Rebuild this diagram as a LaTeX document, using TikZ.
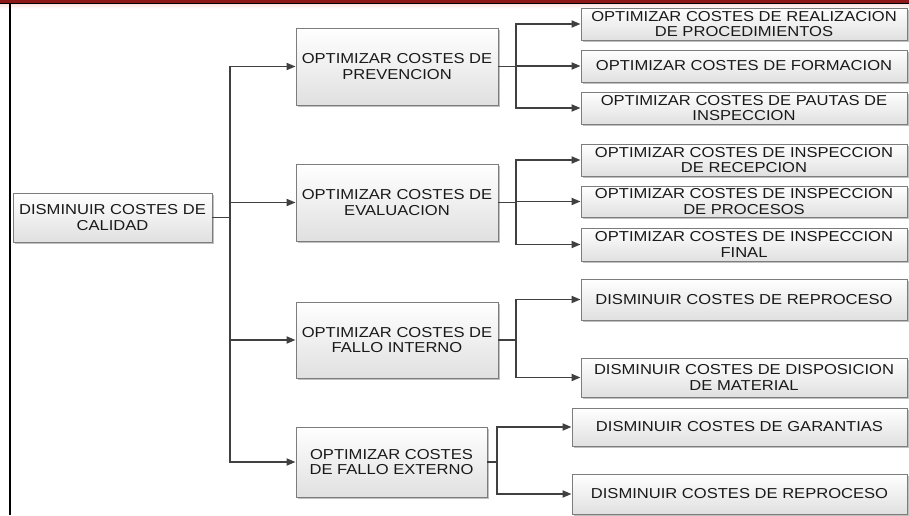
\documentclass[tikz,border=0pt]{standalone}
\usepackage{fontspec}
\setmainfont{Liberation Sans}[FakeStretch=1.15]
\usetikzlibrary{arrows.meta,shadows}
\definecolor{barred}{RGB}{140,22,24}
\definecolor{linegray}{RGB}{64,64,64}
\definecolor{boxedge}{RGB}{125,125,125}
\definecolor{boxlow}{RGB}{224,224,224}
\begin{document}
\begin{tikzpicture}[x=1pt,y=-1pt,
  box/.style={draw=boxedge,line width=0.9pt,top color=white,bottom color=boxlow,
    drop shadow={shadow xshift=2pt,shadow yshift=-2pt,fill=black!45,opacity=0.55},
    align=center,inner sep=0pt,font=\fontsize{14.4}{15.5}\selectfont,text=black!90},
  link/.style={draw=linegray,line width=1.8pt},
  arr/.style={link,-{Triangle[length=9pt,width=7pt]}}]
\useasboundingbox (0,0) rectangle (909,515);
% header bar and left rule
\shade[top color=red!12,bottom color=white] (0,3.5) rectangle (909,9);
\fill[barred] (0,0) rectangle (909,3.5);
\draw[black,line width=0.8pt] (0,3.5) -- (909,3.5);
\draw[black,line width=2pt] (10,3.5) -- (10,515);

% root
\node[box,minimum width=199pt,minimum height=49pt] (root) at (112.5,217.5)
  {DISMINUIR COSTES DE\\CALIDAD};

% second level
\node[box,minimum width=202pt,minimum height=77pt] (prev) at (397,66.5)
  {OPTIMIZAR COSTES DE\\PREVENCION};
\node[box,minimum width=202pt,minimum height=77pt] (eval) at (397,202.5)
  {OPTIMIZAR COSTES DE\\EVALUACION};
\node[box,minimum width=202pt,minimum height=76pt] (fint) at (397,340)
  {OPTIMIZAR COSTES DE\\FALLO INTERNO};
\node[box,minimum width=191pt,minimum height=70pt] (fext) at (391.5,462)
  {OPTIMIZAR COSTES\\DE FALLO EXTERNO};

% third level
\node[box,minimum width=326pt,minimum height=32pt] (p1) at (744,24)
  {OPTIMIZAR COSTES DE REALIZACION\\DE PROCEDIMIENTOS};
\node[box,minimum width=326pt,minimum height=32pt] (p2) at (744,66)
  {OPTIMIZAR COSTES DE FORMACION};
\node[box,minimum width=326pt,minimum height=32pt] (p3) at (744,108)
  {OPTIMIZAR COSTES DE PAUTAS DE\\INSPECCION};
\node[box,minimum width=326pt,minimum height=32pt] (e1) at (744,160)
  {OPTIMIZAR COSTES DE INSPECCION\\DE RECEPCION};
\node[box,minimum width=326pt,minimum height=31pt] (e2) at (744,201.5)
  {OPTIMIZAR COSTES DE INSPECCION\\DE PROCESOS};
\node[box,minimum width=326pt,minimum height=33pt] (e3) at (744,244.5)
  {OPTIMIZAR COSTES DE INSPECCION\\FINAL};
\node[box,minimum width=326pt,minimum height=41pt] (i1) at (744,299.5)
  {DISMINUIR COSTES DE REPROCESO};
\node[box,minimum width=326pt,minimum height=39pt] (i2) at (744,377.5)
  {DISMINUIR COSTES DE DISPOSICION\\DE MATERIAL};
\node[box,minimum width=335pt,minimum height=38pt] (x1) at (739.5,427)
  {DISMINUIR COSTES DE GARANTIAS};
\node[box,minimum width=335pt,minimum height=40pt] (x2) at (739.5,494)
  {DISMINUIR COSTES DE REPROCESO};

% branch points
\coordinate (t)  at (230,217.5);
\coordinate (bp) at (516,66.5);
\coordinate (be) at (516,202.5);
\coordinate (bi) at (516,340);
\coordinate (bx) at (497,462);

% connectors
\draw[link] (root.east) -- (t);
\foreach \n in {prev,eval,fint,fext} \draw[arr] (t) |- (\n.west);
\draw[link] (prev.east) -- (bp);
\foreach \n in {p1,p2,p3} \draw[arr] (bp) |- (\n.west);
\draw[link] (eval.east) -- (be);
\foreach \n in {e1,e2,e3} \draw[arr] (be) |- (\n.west);
\draw[link] (fint.east) -- (bi);
\foreach \n in {i1,i2} \draw[arr] (bi) |- (\n.west);
\draw[link] (fext.east) -- (bx);
\foreach \n in {x1,x2} \draw[arr] (bx) |- (\n.west);
\end{tikzpicture}
\end{document}
